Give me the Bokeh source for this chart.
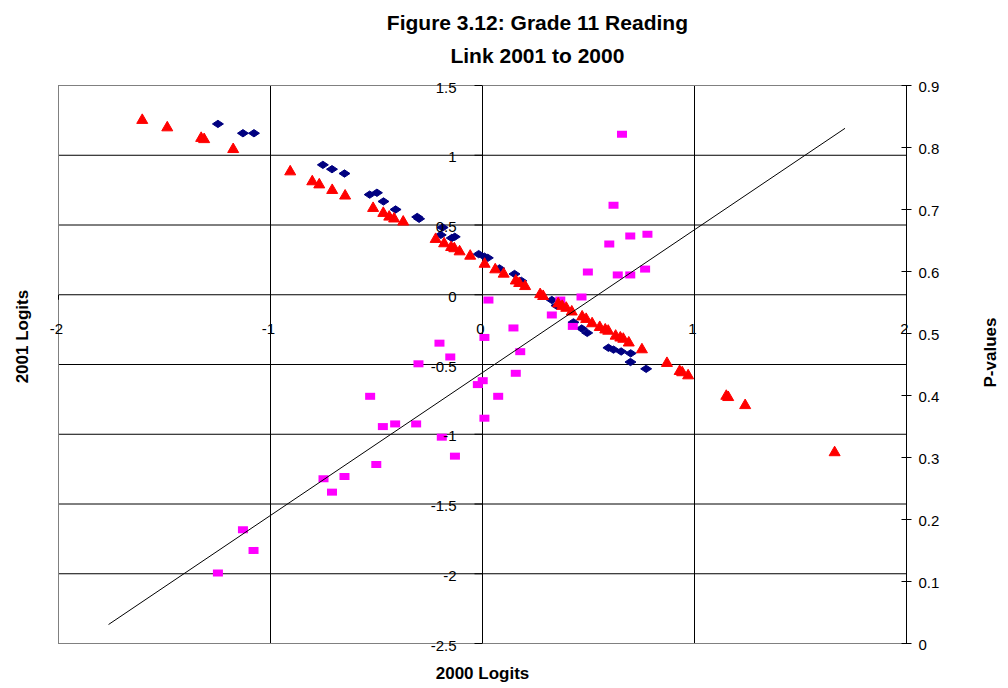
import numpy as np
from bokeh.plotting import figure
from bokeh.models import Range1d, ColumnDataSource, LabelSet, Label, Grid
from bokeh.embed import file_html
from bokeh.resources import INLINE
from bokeh.core.properties import value

# ---------------- data ----------------
# Navy diamonds: 2000 logits vs p-values (right axis)
diamond_x = [-1.248, -1.130, -1.078, -0.753, -0.710, -0.651, -0.532, -0.498, -0.467,
             -0.410, -0.308, -0.299, -0.188, -0.197, -0.145, -0.131, -0.018, 0.009,
             0.025, 0.080, 0.151, 0.183, 0.327, 0.349, 0.429, 0.468, 0.494, 0.594,
             0.618, 0.654, 0.699, 0.698, 0.772]
diamond_p = [0.838, 0.823, 0.823, 0.772, 0.765, 0.758, 0.724, 0.727, 0.713,
             0.700, 0.688, 0.685, 0.671, 0.659, 0.654, 0.656, 0.628, 0.624,
             0.622, 0.605, 0.596, 0.585, 0.554, 0.545, 0.518, 0.508, 0.501, 0.477,
             0.474, 0.471, 0.468, 0.454, 0.443]

# Red triangles: logits vs p-values (right axis)
triangle_x = [-1.605, -1.487, -1.327, -1.313, -1.176, -0.907, -0.803, -0.770, -0.709,
              -0.648, -0.516, -0.468, -0.440, -0.417, -0.374, -0.221, -0.181, -0.148,
              -0.133, -0.108, -0.058, 0.010, 0.060, 0.100, 0.157, 0.173, 0.201, 0.272,
              0.286, 0.357, 0.376, 0.395, 0.421, 0.470, 0.489, 0.517, 0.553, 0.579,
              0.593, 0.628, 0.650, 0.664, 0.690, 0.752, 0.870, 0.930, 0.942, 0.970,
              1.150, 1.159, 1.239, 1.661]
triangle_p = [0.844, 0.832, 0.815, 0.813, 0.797, 0.761, 0.745, 0.740, 0.731,
              0.722, 0.702, 0.694, 0.688, 0.685, 0.680, 0.652, 0.645, 0.639,
              0.637, 0.632, 0.625, 0.612, 0.603, 0.596, 0.585, 0.581, 0.576, 0.563,
              0.560, 0.548, 0.544, 0.541, 0.535, 0.527, 0.523, 0.516, 0.510, 0.506,
              0.504, 0.496, 0.493, 0.491, 0.485, 0.474, 0.452, 0.439, 0.437, 0.432,
              0.399, 0.397, 0.384, 0.308]

# Magenta squares: 2000 logits vs 2001 logits (left axis)
square_x = [0.658, 0.618, 0.697, 0.778, 0.598, 0.497, 0.638, 0.697, 0.767, 0.467,
            0.367, 0.028, 0.327, 0.426, 0.146, 0.009, 0.178, -0.203, -0.152, -0.302,
            0.157, 0.001, -0.022, 0.074, 0.009, -0.313, -0.412, -0.470, -0.530, -0.192,
            -0.130, -0.501, -0.750, -0.651, -0.710, -1.130, -1.080, -1.248]
square_y = [1.150, 0.642, 0.422, 0.433, 0.363, 0.163, 0.142, 0.142, 0.184, -0.016,
            -0.038, -0.038, -0.145, -0.227, -0.238, -0.306, -0.408, -0.347, -0.446, -0.495,
            -0.563, -0.616, -0.644, -0.728, -0.885, -0.926, -0.926, -0.945, -0.728, -1.021,
            -1.157, -1.217, -1.319, -1.303, -1.415, -1.684, -1.833, -1.995]

# Black reference line (left axis)
line_x = [-1.764, 1.710]
line_y = [-2.364, 1.193]

x_min, x_max = -2, 2
y_min, y_max = -2.5, 1.5
p_min, p_max = 0, 0.9
x_ticks = [-2, -1, 0, 1, 2]
x_tick_labels = ["-2", "-1", "0", "1", "2"]
y_ticks = [-2.5, -2, -1.5, -1, -0.5, 0, 0.5, 1, 1.5]
y_tick_labels = ["-2.5", "-2", "-1.5", "-1", "-0.5", "0", "0.5", "1", "1.5"]
p_ticks = [0, 0.1, 0.2, 0.3, 0.4, 0.5, 0.6, 0.7, 0.8, 0.9]
p_tick_labels = ["0", "0.1", "0.2", "0.3", "0.4", "0.5", "0.6", "0.7", "0.8", "0.9"]

title_lines = ["Figure 3.12: Grade 11 Reading", "Link 2001 to 2000"]
x_title = "2000 Logits"
y_title = "2001 Logits"
p_title = "P-values"

# ---------------- layout (pixels) ----------------
W, H = 1000, 686
PX_L, PX_R, PY_T, PY_B = 58, 906, 85, 643
FONT = "Liberation Sans"

sx = (PX_R - PX_L) / (x_max - x_min)
sy = (PY_B - PY_T) / (y_max - y_min)
sp = (PY_B - PY_T) / (p_max - p_min)

x_range = Range1d(x_min - PX_L / sx, x_max + (W - PX_R) / sx)
y_range = Range1d(y_min - (H - PY_B) / sy, y_max + PY_T / sy)

p = figure(width=W, height=H, x_range=x_range, y_range=y_range,
           x_axis_location=None, y_axis_location=None,
           toolbar_location=None, output_backend="svg", min_border=0)
p.background_fill_color = "white"
p.border_fill_color = "white"
p.outline_line_color = None
for g in list(p.center):
    if isinstance(g, Grid):
        g.visible = False

p.extra_y_ranges = {"p": Range1d(p_min - (H - PY_B) / sp, p_max + PY_T / sp)}

# grid lines (horizontal at every left-axis tick, vertical at inner x ticks)
gy = [t for t in y_ticks]
p.segment(x0=[x_min] * len(gy), y0=gy, x1=[x_max] * len(gy), y1=gy,
          line_color="black", line_width=1)
gx = [t for t in x_ticks if x_min < t < x_max]
p.segment(x0=gx, y0=[y_min] * len(gx), x1=gx, y1=[y_max] * len(gx),
          line_color="black", line_width=1)
# plot-area border
p.quad(left=[x_min], right=[x_max], bottom=[y_min], top=[y_max],
       fill_color=None, line_color="#808080", line_width=1)

# tick marks of the centred axes
tlx = 8 / sx
tly = 5 / sy
p.segment(x0=[-tlx] * len(y_ticks), y0=y_ticks, x1=[0] * len(y_ticks), y1=y_ticks,
          line_color="black", line_width=1)
p.segment(x0=x_ticks, y0=[0] * len(x_ticks), x1=x_ticks, y1=[-tly] * len(x_ticks),
          line_color="black", line_width=1)

# right (P-values) axis
p.segment(x0=[x_max], y0=[p_min], x1=[x_max], y1=[p_max], line_color="black",
          line_width=1, y_range_name="p")
tl = 5 / sx
p.segment(x0=[x_max - tl] * len(p_ticks), y0=p_ticks, x1=[x_max + tl] * len(p_ticks),
          y1=p_ticks, line_color="black", line_width=1, y_range_name="p")

# series
p.scatter(diamond_x, diamond_p, marker="diamond", size=11, angle=np.pi / 2,
          fill_color="#000080", line_color="#000080", y_range_name="p")
p.rect(x=square_x, y=square_y, width=10, height=7, width_units="screen",
       height_units="screen", fill_color="#FF00FF", line_color=None)
p.scatter(triangle_x, triangle_p, marker="triangle", size=11,
          fill_color="#FF0000", line_color="#FF0000", y_range_name="p")
p.line(line_x, line_y, line_color="black", line_width=1)

# tick labels
ysrc = ColumnDataSource(dict(x=[0] * len(y_ticks), y=y_ticks, t=y_tick_labels))
p.add_layout(LabelSet(x="x", y="y", text="t", source=ysrc, x_offset=-26, y_offset=-2,
                      text_align="right", text_baseline="middle",
                      text_font=value(FONT), text_font_size=value("15px"),
                      text_color="black"))
xsrc = ColumnDataSource(dict(x=x_ticks, y=[0] * len(x_ticks), t=x_tick_labels))
p.add_layout(LabelSet(x="x", y="y", text="t", source=xsrc, x_offset=-2, y_offset=-34,
                      text_align="center", text_baseline="middle",
                      text_font=value(FONT), text_font_size=value("15px"),
                      text_color="black"))
psrc = ColumnDataSource(dict(x=[x_max] * len(p_ticks), y=p_ticks, t=p_tick_labels))
p.add_layout(LabelSet(x="x", y="y", text="t", source=psrc, x_offset=12, y_offset=-1,
                      text_align="left", text_baseline="middle", y_range_name="p",
                      text_font=value(FONT), text_font_size=value("15px"),
                      text_color="black"))

# titles
p.add_layout(Label(x=0.259, y=1.952, text=title_lines[0], text_align="center",
                   text_baseline="middle", text_font=FONT, text_font_size="21px",
                   text_font_style="bold", text_color="black"))
p.add_layout(Label(x=0.259, y=1.715, text=title_lines[1], text_align="center",
                   text_baseline="middle", text_font=FONT, text_font_size="21px",
                   text_font_style="bold", text_color="black"))
p.add_layout(Label(x=0.0, y=-2.715, text=x_title, text_align="center",
                   text_baseline="middle", text_font=FONT, text_font_size="17px",
                   text_font_style="bold", text_color="black"))
p.add_layout(Label(x=-2.170, y=-0.30, text=y_title, angle=np.pi / 2, text_align="center",
                   text_baseline="middle", text_font=FONT, text_font_size="17px",
                   text_font_style="bold", text_color="black"))
p.add_layout(Label(x=2.396, y=-0.414, text=p_title, angle=np.pi / 2, text_align="center",
                   text_baseline="middle", text_font=FONT, text_font_size="17px",
                   text_font_style="bold", text_color="black"))

open("out.html", "w").write(file_html(p, INLINE))
